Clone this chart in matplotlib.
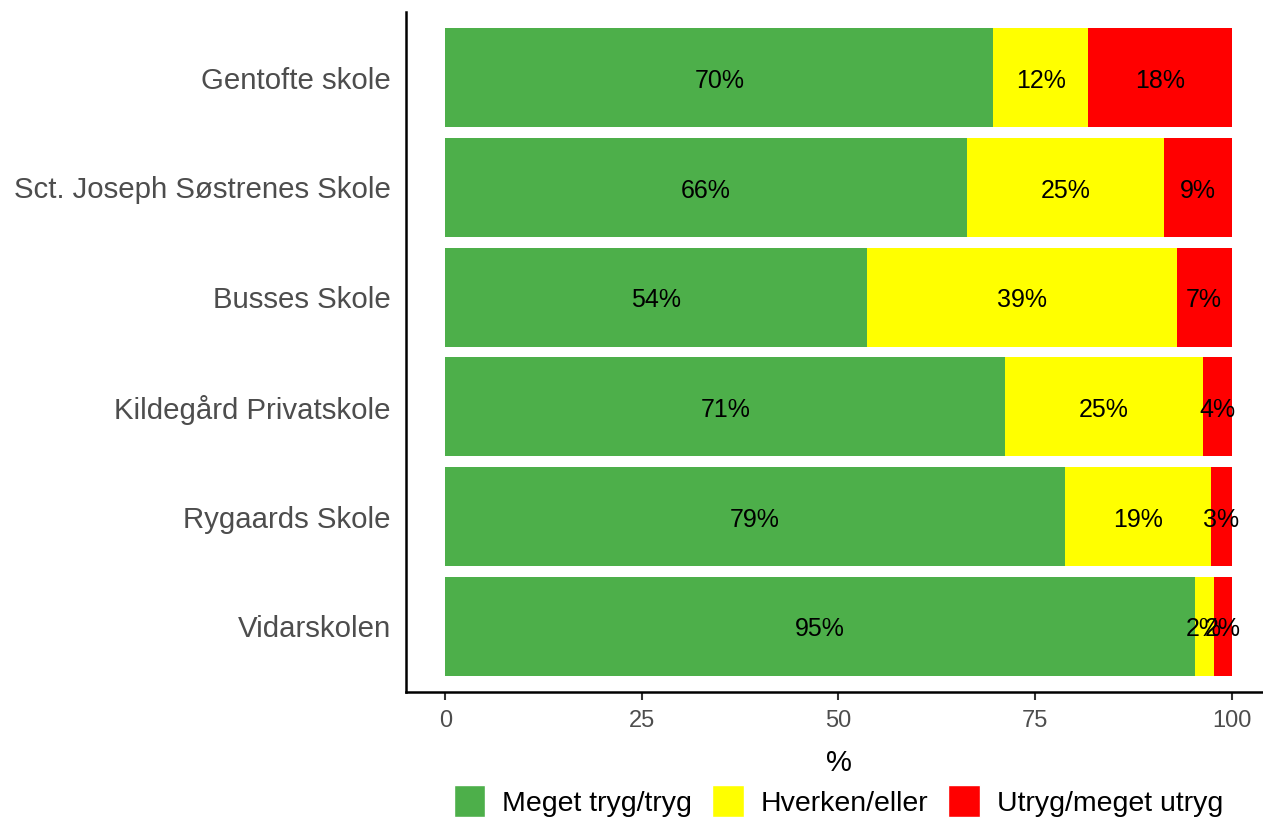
import matplotlib.pyplot as plt
from matplotlib.patches import Patch
import numpy as np

plt.rcParams['font.family'] = ['Liberation Sans', 'DejaVu Sans']

# data (percent), top to bottom as shown
schools = ["Gentofte skole", "Sct. Joseph Søstrenes Skole", "Busses Skole",
           "Kildegård Privatskole", "Rygaards Skole", "Vidarskolen"]
tryg = [69.7, 66.3, 53.6, 71.2, 78.8, 95.3]
hverken = [12.0, 25.1, 39.4, 25.1, 18.6, 2.4]
utryg = [18.3, 8.6, 7.0, 3.7, 2.6, 2.3]

categories = ["Meget tryg/tryg", "Hverken/eller", "Utryg/meget utryg"]
colors = ["#4DAF4A", "#FFFF00", "#FF0000"]

W, H = 1263, 821
fig = plt.figure(figsize=(W / 100, H / 100), dpi=100)
ax = fig.add_axes([406 / W, 1 - 692 / H, (1271 - 406) / W, (692 - 12) / H])

y = np.arange(len(schools))[::-1]
left = np.zeros(len(schools))
for vals, col in zip([tryg, hverken, utryg], colors):
    vals = np.array(vals)
    ax.barh(y, vals, left=left, height=0.9, color=col)
    for yi, l, v in zip(y, left, vals):
        ax.text(l + v / 2, yi - 0.03, f"{v:.0f}%", ha='center', va='center',
                fontsize=18, color='black')
    left = left + vals

ax.set_xlim(-5, 105)
ax.set_ylim(-0.6, len(schools) - 0.4)
ax.set_yticks(y)
ax.set_yticklabels(schools)
ax.set_xticks([0, 25, 50, 75, 100])
ax.set_xticklabels(["0", "25", "50", "75", "100"])
ax.tick_params(axis='x', colors='#333333', length=6, width=1.5,
               labelsize=17, labelcolor='#4D4D4D', pad=7)
ax.tick_params(axis='y', length=0, pad=11, labelsize=21.2, labelcolor='#4D4D4D')
for s in ['top', 'right']:
    ax.spines[s].set_visible(False)
for s in ['left', 'bottom']:
    ax.spines[s].set_linewidth(1.8)
    ax.spines[s].set_color('black')
ax.set_xlabel("%", fontsize=21, labelpad=12)

handles = [Patch(facecolor=c, edgecolor='white', label=n) for c, n in zip(colors, categories)]
fig.legend(handles=handles, loc='center', bbox_to_anchor=((406 + 1271) / 2 / W, 1 - 801 / H),
           ncol=3, frameon=False, fontsize=20.5, handlelength=1.1, handleheight=1.35,
           handletextpad=0.6, columnspacing=0.7)

fig.savefig("out.png", dpi=100)
